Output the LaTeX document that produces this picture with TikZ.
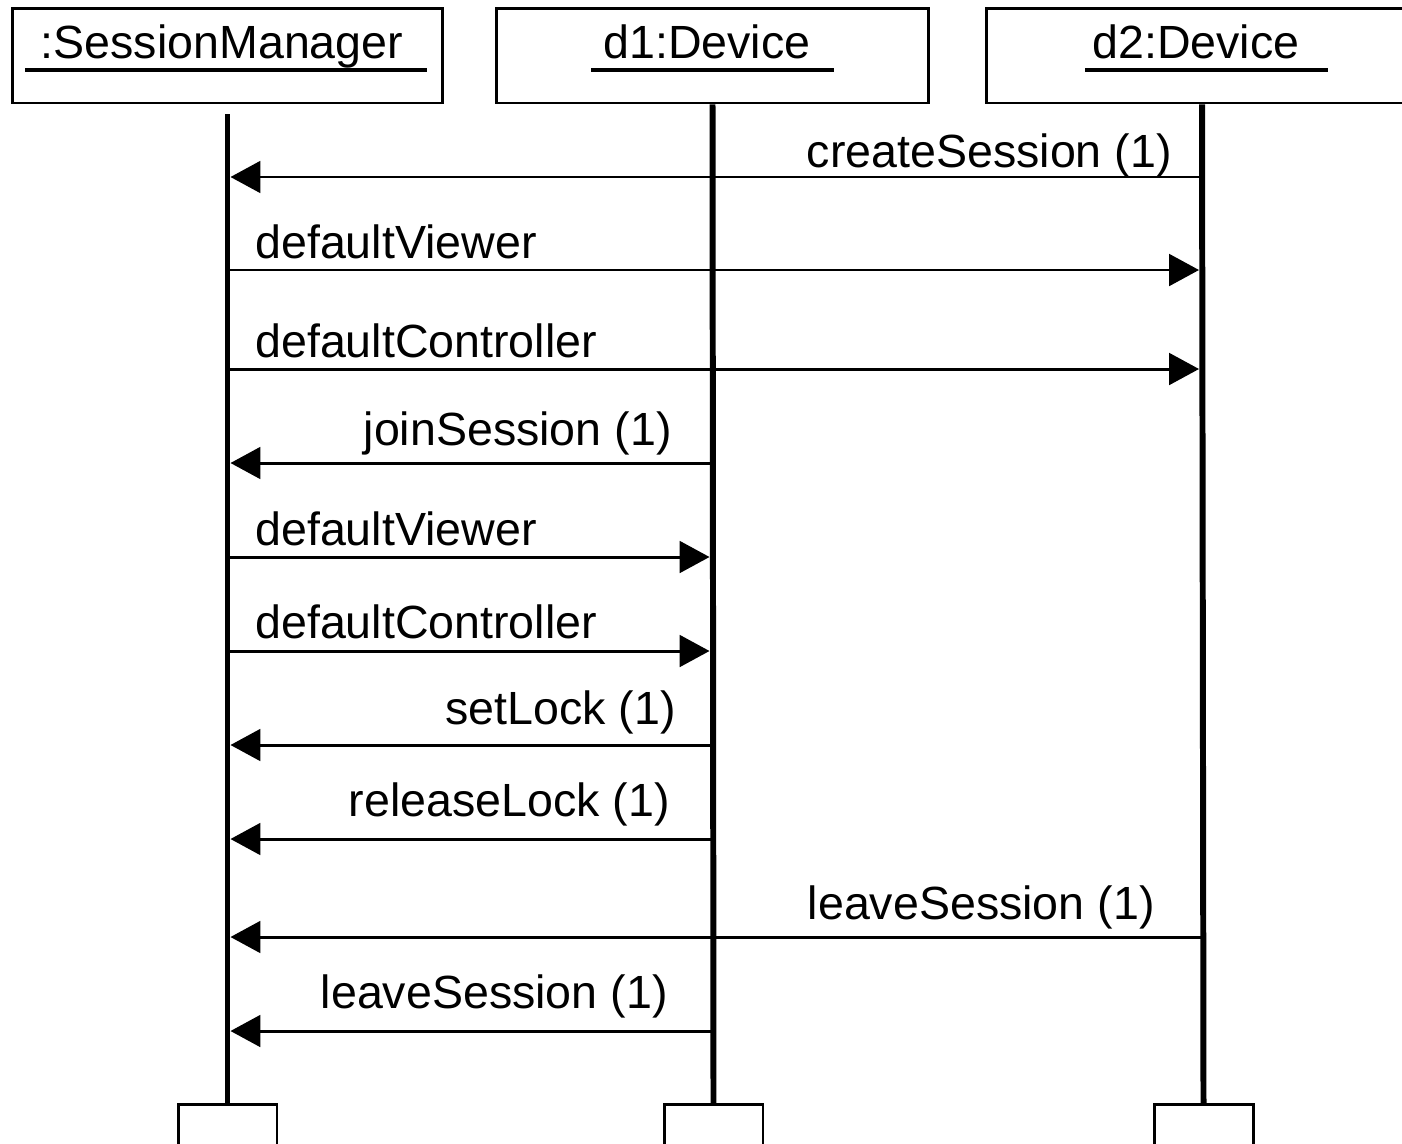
\documentclass[tikz,border=0pt]{standalone}
\usepackage{fontspec}
\setmainfont{Liberation Sans}
\usetikzlibrary{arrows.meta}

\tikzset{
  obj/.style={draw, line width=1.7pt, minimum width=8.64cm, minimum height=1.9cm, inner sep=0pt},
  objname/.style={inner sep=0pt, font=\fontsize{26.5}{32}\selectfont},
  uline/.style={line width=2pt},
  life/.style={line width=3.4pt},
  endbox/.style={draw, line width=1.7pt, minimum width=1.98cm, minimum height=1.2cm, inner sep=0pt, anchor=north},
  msg/.style={line width=1.7pt, -{Triangle[length=17pt, width=18pt]}, shorten >=1.7pt},
  lbl/.style={inner sep=0pt, font=\fontsize{26.5}{32}\selectfont}
}

\begin{document}
\begin{tikzpicture}[x=0.02cm, y=-0.02cm]
\useasboundingbox (0,0) rectangle (1402,1143);
\clip (0,0) rectangle (1402,1143);

% objects
\node[obj, minimum width=8.62cm] (sm) at (227.5,55.5) {};
\node[obj, minimum width=8.66cm] (d1) at (712.5,55.5) {};
\node[obj] (d2) at (1202,55.5) {};

\node[objname, anchor=base] (smname) at (222,58) {:SessionManager};
\node[objname, anchor=base] (d1name) at (707,58) {d1:Device};
\node[objname, anchor=base] (d2name) at (1196,58) {d2:Device};
\draw[uline] (25,70) -- (427,70);
\draw[uline] (591,70) -- (834,70);
\draw[uline] (1085,70) -- (1328,70);

% lifelines
\node[endbox] (smend) at (227.5,1103) {};
\node[endbox] (d1end) at (713.5,1103) {};
\node[endbox] (d2end) at (1203.5,1103) {};
\draw[life] ([yshift=-0.2cm]sm.south) -- (smend.north);
\draw[life] (d1.south) -- (d1end.north);
\draw[life] (d2.south) -- (d2end.north);

% messages
\draw[msg] (d2.south |- 0,177) -- (sm.south |- 0,177);
\node[lbl, anchor=base east] (m1) at (1172,167) {createSession (1)};

\draw[msg] (sm.south |- 0,270) -- (d2.south |- 0,270);
\node[lbl, anchor=base west] (m2) at (255,258) {defaultViewer};

\draw[msg] (sm.south |- 0,369) -- (d2.south |- 0,369);
\node[lbl, anchor=base west] (m3) at (255,357) {defaultController};

\draw[msg] (d1.south |- 0,463) -- (sm.south |- 0,463);
\node[lbl, anchor=base east] (m4) at (672,445) {joinSession (1)};

\draw[msg] (sm.south |- 0,557) -- (d1.south |- 0,557);
\node[lbl, anchor=base west] (m5) at (255,545) {defaultViewer};

\draw[msg] (sm.south |- 0,651) -- (d1.south |- 0,651);
\node[lbl, anchor=base west] (m6) at (255,638) {defaultController};

\draw[msg] (d1.south |- 0,745) -- (sm.south |- 0,745);
\node[lbl, anchor=base east] (m7) at (676,724) {setLock (1)};

\draw[msg] (d1.south |- 0,839) -- (sm.south |- 0,839);
\node[lbl, anchor=base east] (m8) at (670,816) {releaseLock (1)};

\draw[msg] (d2.south |- 0,937) -- (sm.south |- 0,937);
\node[lbl, anchor=base east] (m9) at (1155,919) {leaveSession (1)};

\draw[msg] (d1.south |- 0,1031) -- (sm.south |- 0,1031);
\node[lbl, anchor=base east] (m10) at (668,1008) {leaveSession (1)};

\end{tikzpicture}
\end{document}
